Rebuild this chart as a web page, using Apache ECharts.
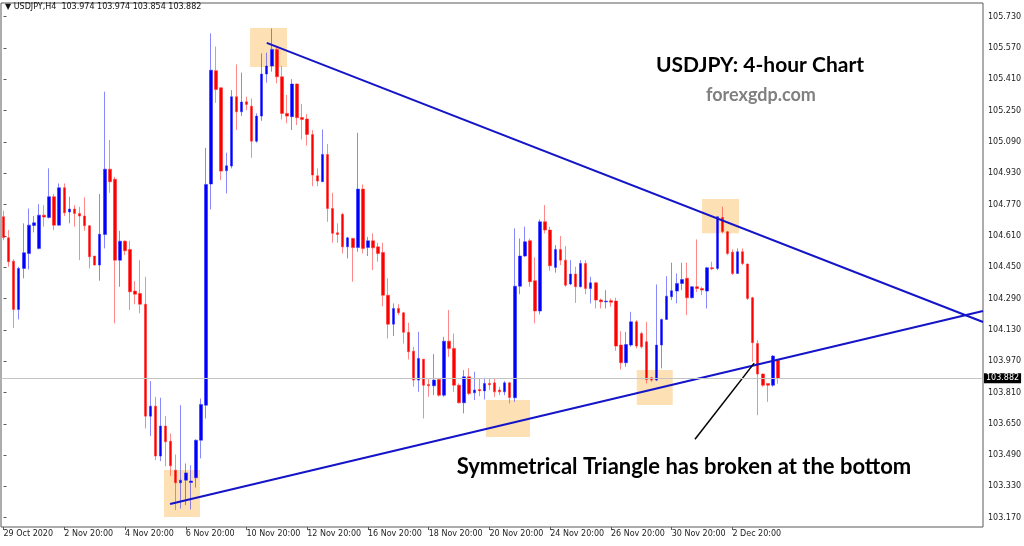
<!DOCTYPE html>
<html><head><meta charset="utf-8">
<script src="https://cdn.jsdelivr.net/npm/echarts/dist/echarts.min.js"></script>
<style>html,body{margin:0;padding:0;background:#fff}#c{width:1024px;height:546px}</style>
</head><body><div id="c"></div>
<script>
// ---------- DATA ----------
const symbolName = 'USDJPY,H4';
const firstBar = '29 Oct 20:00';
const firstLabel = '29 Oct 2020';
const tradingDays = ['30 Oct','2 Nov','3 Nov','4 Nov','5 Nov','6 Nov','9 Nov','10 Nov','11 Nov','12 Nov','13 Nov',
  '16 Nov','17 Nov','18 Nov','19 Nov','20 Nov','23 Nov','24 Nov','25 Nov','26 Nov','27 Nov','30 Nov','1 Dec','2 Dec','3 Dec'];
const barHours = ['00:00','04:00','08:00','12:00','16:00','20:00'];
const lastDayBars = ['4 Dec 00:00','4 Dec 04:00','4 Dec 08:00'];
const chartShiftBars = 40;
const xTickLabels = ['2 Nov 20:00','4 Nov 20:00','6 Nov 20:00','10 Nov 20:00','12 Nov 20:00','16 Nov 20:00',
  '18 Nov 20:00','20 Nov 20:00','24 Nov 20:00','26 Nov 20:00','30 Nov 20:00','2 Dec 20:00'];
const yTicks = [103.170,103.330,103.490,103.650,103.810,103.970,104.130,104.290,104.450,104.610,104.770,104.930,105.090,105.250,105.410,105.570,105.730];

const open = [104.708,104.600,104.481,104.234,104.444,104.520,104.663,104.546,104.716,104.704,104.810,104.665,104.856,104.732,104.747,104.725,104.711,104.662,104.507,104.461,
104.617,104.951,104.899,104.486,104.583,104.541,104.328,104.316,104.261,103.689,103.740,103.485,103.638,103.561,103.413,103.348,103.362,103.350,103.374,103.566,
103.745,104.875,105.454,105.367,104.943,104.967,105.321,105.244,105.295,105.273,105.094,105.222,105.437,105.478,105.563,105.423,105.236,105.219,105.386,105.215,
105.207,105.128,104.917,104.887,105.026,104.750,104.626,104.720,104.554,104.597,104.551,104.849,104.551,104.585,104.554,104.525,104.307,104.159,104.239,104.217,
104.117,104.021,103.873,103.980,103.851,103.844,103.876,103.796,104.072,104.035,103.847,103.757,103.890,103.808,103.825,103.818,103.856,103.859,103.822,103.813,
103.859,103.783,104.353,104.507,104.585,104.381,104.226,104.682,104.640,104.449,104.541,104.486,104.364,104.415,104.350,104.469,104.341,104.370,104.282,104.273,
104.279,104.277,104.052,103.962,104.052,104.171,104.111,104.069,103.885,103.873,104.052,104.183,104.299,104.328,104.367,104.393,104.294,104.350,104.341,104.328,
104.447,104.444,104.704,104.631,104.527,104.418,104.529,104.466,104.294,104.060,103.904,103.856,103.847,103.974];
const high = [104.738,104.640,104.490,104.452,104.674,104.750,104.711,104.772,104.767,104.955,104.824,104.878,104.878,104.810,104.767,104.759,104.807,104.665,104.507,104.824,
105.347,105.100,104.912,104.636,104.588,104.585,104.379,104.486,104.401,103.868,103.788,103.783,103.689,103.600,103.493,103.745,103.447,103.438,103.570,103.779,
105.060,105.645,105.577,105.367,105.035,105.355,105.486,105.444,105.321,105.312,105.236,105.542,105.546,105.670,105.577,105.478,105.330,105.411,105.389,105.284,
105.232,105.151,104.955,105.154,105.079,104.830,104.674,104.728,104.605,104.600,105.137,104.873,104.605,104.623,104.575,104.575,104.393,104.265,104.261,104.222,
104.166,104.043,104.120,103.980,103.881,104.006,103.881,104.094,104.231,104.111,103.856,103.924,103.933,103.916,103.881,103.885,103.881,103.881,103.839,103.868,
103.864,104.648,104.597,104.657,104.597,104.500,104.694,104.767,104.657,104.563,104.609,104.558,104.486,104.452,104.486,104.486,104.401,104.375,104.290,104.333,
104.290,104.294,104.123,104.120,104.222,104.180,104.120,104.171,103.890,104.362,104.188,104.404,104.473,104.418,104.473,104.473,104.353,104.592,104.350,104.452,
104.478,104.708,104.759,104.636,104.541,104.546,104.546,104.469,104.299,104.077,103.907,103.856,104.001,103.974];
const low = [104.588,104.452,104.140,104.183,104.393,104.439,104.628,104.541,104.657,104.699,104.640,104.663,104.711,104.674,104.657,104.486,104.636,104.444,104.459,104.381,
104.546,104.830,104.163,104.350,104.512,104.231,104.261,104.214,103.626,103.587,103.464,103.459,103.433,103.384,103.209,103.217,103.234,103.212,103.324,103.473,
103.677,104.745,105.290,104.895,104.827,104.955,105.151,105.222,105.253,105.009,105.086,105.198,105.393,105.449,105.389,105.205,105.185,105.151,105.176,105.103,
105.071,104.864,104.864,104.887,104.682,104.575,104.575,104.520,104.495,104.376,104.529,104.520,104.507,104.435,104.478,104.251,104.086,104.098,104.205,104.060,
103.979,103.839,103.813,103.677,103.788,103.796,103.788,103.788,103.992,103.813,103.754,103.703,103.796,103.771,103.791,103.774,103.822,103.788,103.796,103.796,
103.754,103.762,104.312,104.503,104.350,104.163,104.209,104.623,104.432,104.422,104.461,104.350,104.358,104.268,104.347,104.312,104.265,104.239,104.239,104.239,
104.248,104.023,103.927,103.941,104.043,104.035,104.035,103.856,103.864,103.868,103.933,104.180,104.282,104.265,104.333,104.205,104.290,104.324,104.307,104.239,
104.435,104.435,104.623,104.512,104.410,104.415,104.461,104.282,103.967,103.694,103.839,103.762,103.839,103.854];
const close = [104.602,104.478,104.234,104.444,104.524,104.665,104.677,104.716,104.706,104.810,104.665,104.856,104.728,104.747,104.725,104.711,104.662,104.503,104.461,104.619,
104.951,104.887,104.486,104.583,104.534,104.324,104.312,104.261,103.689,103.740,103.485,103.638,103.558,103.435,103.348,103.362,103.399,103.357,103.566,103.749,
104.873,105.457,105.358,104.941,104.968,105.321,105.244,105.294,105.282,105.094,105.222,105.437,105.478,105.563,105.423,105.236,105.222,105.386,105.214,105.205,
105.128,104.921,104.890,105.026,104.750,104.623,104.617,104.554,104.600,104.551,104.849,104.546,104.585,104.549,104.520,104.307,104.159,104.239,104.217,104.117,
104.018,103.873,103.984,103.847,103.844,103.873,103.796,104.072,104.035,103.847,103.757,103.890,103.805,103.822,103.818,103.856,103.849,103.813,103.813,103.859,
103.784,104.353,104.507,104.580,104.376,104.226,104.682,104.640,104.457,104.541,104.486,104.358,104.415,104.350,104.469,104.341,104.370,104.282,104.273,104.277,
104.271,104.047,103.962,104.055,104.171,104.047,104.043,103.876,103.873,104.052,104.183,104.302,104.330,104.367,104.387,104.294,104.350,104.341,104.333,104.447,
104.442,104.708,104.631,104.520,104.418,104.529,104.469,104.290,104.064,103.904,103.847,103.847,103.996,103.882];

// trend lines & annotations in (bar index, price)
const upperTrend = [[52, 105.596], [193.5, 104.170]];
const lowerTrend = [[32.9, 103.240], [193.5, 104.226]];
const pointerLine = [[136.6, 103.571], [148.3, 103.960]];
// highlight zones: [fromBar, toBar, lowPrice, highPrice]
const zones = [[31.7, 38.8, 103.174, 103.414], [48.7, 56.0, 105.473, 105.672], [95.3, 104.0, 103.582, 103.771],
  [125.1, 132.2, 103.746, 103.925], [138.0, 145.3, 104.624, 104.798]];

const titleText = 'USDJPY: 4-hour Chart';
const siteText = 'forexgdp.com';
const noteText = 'Symmetrical Triangle has broken at the bottom';

// ---------- BUILD ----------
const categories = [firstBar];
tradingDays.forEach(d => barHours.forEach(h => categories.push(d + ' ' + h)));
lastDayBars.forEach(b => categories.push(b));
for (let i = 0; i < chartShiftBars; i++) categories.push('');
const N = categories.length;

const ohlc = open.map((o, i) => [o, close[i], low[i], high[i]]);
const last = open.length - 1;
const headerText = '\u25BC ' + symbolName + '  ' + open[last].toFixed(3) + ' ' + high[last].toFixed(3) + ' ' +
  low[last].toFixed(3) + ' ' + close[last].toFixed(3);

const showLabel = (idx, val) => idx === 0 || xTickLabels.indexOf(val) >= 0;
const axisFont = 'DejaVu Sans';

const chart = echarts.init(document.getElementById('c'), null, {renderer: 'canvas'});
chart.setOption({
  animation: false,
  backgroundColor: '#ffffff',
  grid: {left: 1, right: 41, top: 3, bottom: 19, show: true, borderColor: '#5a5a5a', borderWidth: 1,
    backgroundColor: 'transparent', containLabel: false, outerBoundsMode: 'none'},
  xAxis: [{
    type: 'category', data: categories, boundaryGap: true,
    axisLine: {show: false},
    axisTick: {show: true, interval: showLabel, length: 3, alignWithLabel: true, lineStyle: {color: '#5a5a5a'}},
    axisLabel: {interval: showLabel, align: 'left', fontSize: 8, fontFamily: axisFont, color: '#222', margin: 3,
      formatter: (v, i) => i === 0 ? firstLabel : v},
    splitLine: {show: false}
  }, {
    type: 'value', min: -0.5, max: N - 0.5, show: false
  }],
  yAxis: [{
    type: 'value', position: 'right', min: 103.1225, max: 105.80, scale: true,
    axisLine: {show: false},
    axisTick: {show: true, length: 3, customValues: yTicks, lineStyle: {color: '#5a5a5a'}},
    axisLabel: {customValues: yTicks, fontSize: 8, fontFamily: axisFont, color: '#222', margin: 5,
      formatter: v => v.toFixed(3)},
    splitLine: {show: false}
  }],
  graphic: [
    {type: 'text', x: 5, y: 7, style: {text: headerText, font: '8px "DejaVu Sans"', fill: '#111', textVerticalAlign: 'middle'}},
    {type: 'text', x: 760, y: 65, style: {text: titleText, font: 'bold 21px Lato', fill: '#000', textAlign: 'center', textVerticalAlign: 'middle'}},
    {type: 'text', x: 761, y: 95, style: {text: siteText, font: 'bold 18px Lato', fill: '#808080', textAlign: 'center', textVerticalAlign: 'middle'}},
    {type: 'text', x: 684, y: 467, style: {text: noteText, font: 'bold 22px Lato', fill: '#000', textAlign: 'center', textVerticalAlign: 'middle'}}
  ],
  series: [
    {
      type: 'line', xAxisIndex: 1, yAxisIndex: 0, data: [], z: 1, silent: true,
      markArea: {silent: true, itemStyle: {color: '#fde0b4'},
        data: zones.map(z => [{coord: [z[0], z[3]]}, {coord: [z[1], z[2]]}])}
    },
    {
      type: 'candlestick', xAxisIndex: 0, yAxisIndex: 0, data: ohlc, barWidth: 3, z: 2,
      itemStyle: {color: '#0000ff', color0: '#ff0000', borderColor: 'rgba(40,40,255,0.55)', borderColor0: 'rgba(255,40,40,0.55)', borderWidth: 1},
      markLine: {silent: true, symbol: ['none', 'none'], animation: false, precision: 3,
        data: [{yAxis: close[last]}],
        lineStyle: {color: '#c4c4c4', width: 1, type: 'solid'},
        label: {position: 'end', formatter: () => close[last].toFixed(3), backgroundColor: '#000', color: '#fff',
          fontSize: 8, fontFamily: axisFont, padding: [1, 2, 1, 2], distance: 1}}
    },
    {type: 'line', xAxisIndex: 1, yAxisIndex: 0, data: upperTrend, symbol: 'none', z: 3, silent: true,
      lineStyle: {color: '#1414c8', width: 2}},
    {type: 'line', xAxisIndex: 1, yAxisIndex: 0, data: lowerTrend, symbol: 'none', z: 3, silent: true,
      lineStyle: {color: '#1414c8', width: 2}},
    {type: 'line', xAxisIndex: 1, yAxisIndex: 0, data: pointerLine, symbol: 'none', z: 3, silent: true,
      lineStyle: {color: '#000', width: 1.5}}
  ]
});
</script></body></html>
